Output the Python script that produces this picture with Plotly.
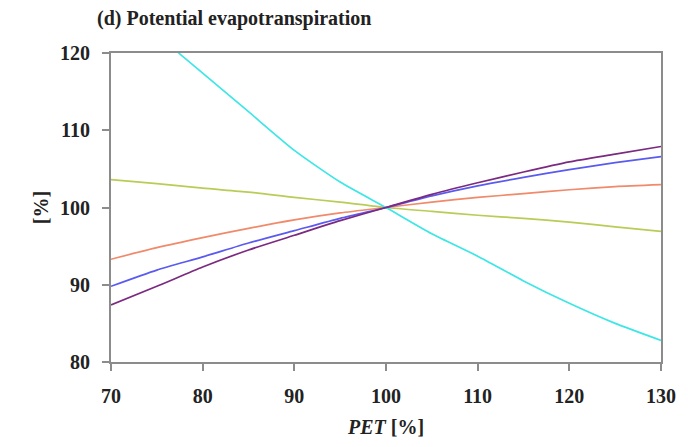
import plotly.graph_objects as go

pet = [70, 75, 80, 85, 90, 95, 100, 105, 110, 115, 120, 125, 130]

cyan_vals = [127.5, 122.4, 117.4, 112.4, 107.4, 103.3, 100.0, 96.6, 93.7, 90.5, 87.6, 85.0, 82.8]
green_vals = [103.6, 103.1, 102.5, 102.0, 101.3, 100.7, 100.0, 99.5, 99.0, 98.6, 98.1, 97.5, 96.9]
orange_vals = [93.3, 94.8, 96.1, 97.3, 98.4, 99.3, 100.0, 100.7, 101.3, 101.8, 102.3, 102.7, 102.95]
blue_vals = [89.8, 91.9, 93.6, 95.4, 97.0, 98.6, 100.0, 101.5, 102.8, 103.9, 104.9, 105.8, 106.6]
purple_vals = [87.4, 89.8, 92.3, 94.5, 96.4, 98.3, 100.0, 101.7, 103.2, 104.6, 105.9, 106.9, 107.9]

series = [
    ("green", green_vals, "#b9cc55"),
    ("orange", orange_vals, "#f08a6a"),
    ("cyan", cyan_vals, "#3ee6e6"),
    ("blue", blue_vals, "#5a5af0"),
    ("purple", purple_vals, "#7a2a80"),
]

x_ticks = [70, 80, 90, 100, 110, 120, 130]
y_ticks = [80, 90, 100, 110, 120]

fig = go.Figure()
for name, vals, col in series:
    fig.add_trace(go.Scatter(x=pet, y=vals, mode="lines", name=name,
                             line=dict(color=col, width=1.7, shape="spline", smoothing=0.6),
                             showlegend=False))

font_family = "Liberation Serif, Times New Roman, serif"
axis_common = dict(
    showgrid=False, zeroline=False, showline=True, linecolor="#8c8c8c", linewidth=2,
    mirror=True, ticks="outside", ticklen=7, tickwidth=1.5, tickcolor="#8c8c8c",
    tickfont=dict(family=font_family, size=20, color="#222222", weight="bold"),
)

fig.update_layout(
    width=688, height=447,
    margin=dict(l=111, r=18, t=53, b=83),
    paper_bgcolor="white", plot_bgcolor="white",
    title=dict(text="<b>(d) Potential evapotranspiration</b>", x=97/688, xanchor="left",
               y=1 - 18/447, yanchor="middle",
               font=dict(family=font_family, size=20, color="#222222")),
    xaxis=dict(range=[70, 130], tickvals=x_ticks, ticklabelstandoff=8,
               title=dict(text="<b><i>PET</i> [%]</b>", standoff=14,
                          font=dict(family=font_family, size=20, color="#222222")),
               **axis_common),
    yaxis=dict(range=[80, 120], tickvals=y_ticks, ticklabelstandoff=8,
               title=dict(text="<b>[%]</b>", standoff=6,
                          font=dict(family=font_family, size=20, color="#222222")),
               **axis_common),
)

fig.write_html("out.html")
